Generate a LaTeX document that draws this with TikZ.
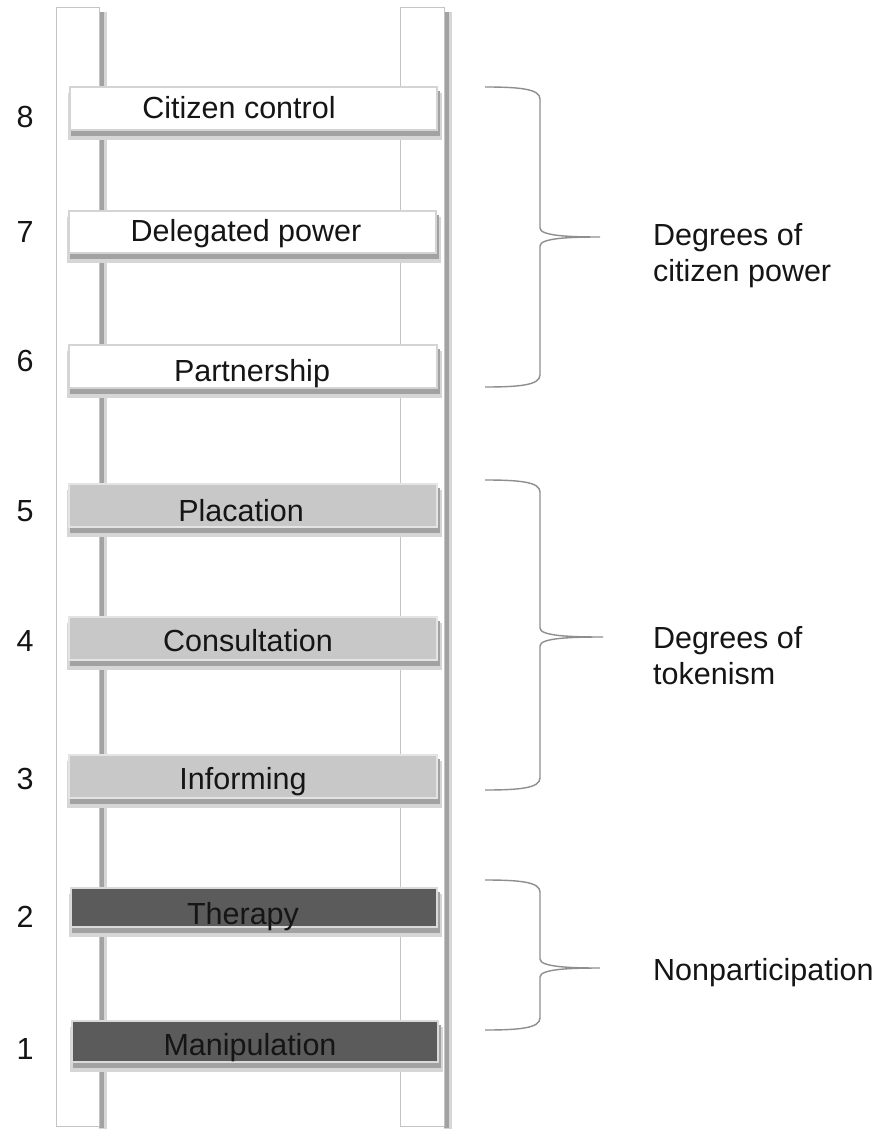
\documentclass[tikz,border=0pt]{standalone}
\usepackage{fontspec}
\setmainfont{Liberation Sans}
\definecolor{railedge}{HTML}{C4C4C4}
\definecolor{shdark}{HTML}{A2A2A2}
\definecolor{shlight}{HTML}{D6D6D6}
\definecolor{rwhiteedge}{HTML}{D4D4D4}
\definecolor{rgray}{HTML}{C8C8C8}
\definecolor{rgrayedge}{HTML}{E4E4E4}
\definecolor{rdark}{HTML}{5B5B5B}
\definecolor{rdarkedge}{HTML}{DADADA}
\definecolor{bracecol}{HTML}{8E8E8E}
\definecolor{txt}{HTML}{151515}
\newcommand\ladderbrace[4]{% top, mid, bottom, tip x
  \draw[brace] (485,#1) .. controls (520,#1) and (540,#1+2) .. (540,#1+12)
    -- (540,#2-9) .. controls (540,#2-1) and (570,#2) .. (#4,#2)
    .. controls (570,#2) and (540,#2+1) .. (540,#2+9)
    -- (540,#3-12) .. controls (540,#3-2) and (520,#3) .. (485,#3);}
\begin{document}
\begin{tikzpicture}[x=1pt,y=-1pt,
  font=\fontsize{30.5}{36}\selectfont,
  rail/.style={draw=railedge,fill=white,line width=1pt},
  sha/.style={fill=shdark},
  shb/.style={fill=shlight},
  rung/.style={rectangle,inner sep=0pt,line width=1.2pt},
  wr/.style={draw=rwhiteedge,fill=white},
  gr/.style={draw=rgrayedge,fill=rgray},
  dr/.style={draw=rdarkedge,fill=rdark},
  rtext/.style={anchor=base,text=txt,inner sep=0pt},
  num/.style={anchor=base,text=txt,inner sep=0pt},
  lab/.style={anchor=base west,text=txt,inner sep=0pt,align=left},
  brace/.style={draw=bracecol,line width=1.4pt}]
\useasboundingbox (0,0) rectangle (887,1131);
\fill[white] (0,0) rectangle (887,1131);
% rails
\fill[shb] (99,12) rectangle (107,1129);
\fill[sha] (99,12) rectangle (104,1128);
\draw[rail] (56,8) rectangle (99,1126);
\fill[shb] (444,12) rectangle (452,1129);
\fill[sha] (444,12) rectangle (449,1128);
\draw[rail] (400,8) rectangle (444,1126);
% rungs
\foreach \n/\ya/\yb/\xa/\xb/\st in {8/87/130/70/437/wr,7/211/253/69/436/wr,6/345/388/69/437/wr,5/484/527/69/437/gr,4/617/660/69/437/gr,3/755/798/69/437/gr,2/888/927/71/437/dr,1/1021/1062/72/438/dr}{
  \fill[shb] (\xa-2,\ya+6) rectangle (\xb+5,\yb+10);
  \fill[sha] (\xa+1,\ya+4) rectangle (\xb+3,\yb+6);
  \node[rung,\st,minimum width=\xb-\xa,minimum height=\yb-\ya] (r\n) at ({(\xa+\xb)/2},{(\ya+\yb)/2}) {};
}
% rung texts
\node[rtext] (t8) at (239,119) {Citizen control};
\node[rtext] (t7) at (246,242) {Delegated power};
\node[rtext] (t6) at (252,381) {Partnership};
\node[rtext] (t5) at (241,521) {Placation};
\node[rtext] (t4) at (248,651) {Consultation};
\node[rtext] (t3) at (243,789) {Informing};
\node[rtext] (t2) at (243,924) {Therapy};
\node[rtext] (t1) at (250,1055) {Manipulation};
% numbers
\node[num] (n8) at (25,128) {8};
\node[num] (n7) at (25,243) {7};
\node[num] (n6) at (25,371) {6};
\node[num] (n5) at (25,521) {5};
\node[num] (n4) at (25,651) {4};
\node[num] (n3) at (25,789) {3};
\node[num] (n2) at (25,927) {2};
\node[num] (n1) at (25,1059) {1};
% braces
\ladderbrace{87}{237}{387}{600}
\ladderbrace{480}{637}{790}{603}
\ladderbrace{880}{968}{1030}{600}
% labels
\node[lab] (l1) at (653,282) {Degrees of\\citizen power};
\node[lab] (l2) at (653,684) {Degrees of\\tokenism};
\node[lab] (l3) at (653,980) {Nonparticipation};
\end{tikzpicture}
\end{document}
